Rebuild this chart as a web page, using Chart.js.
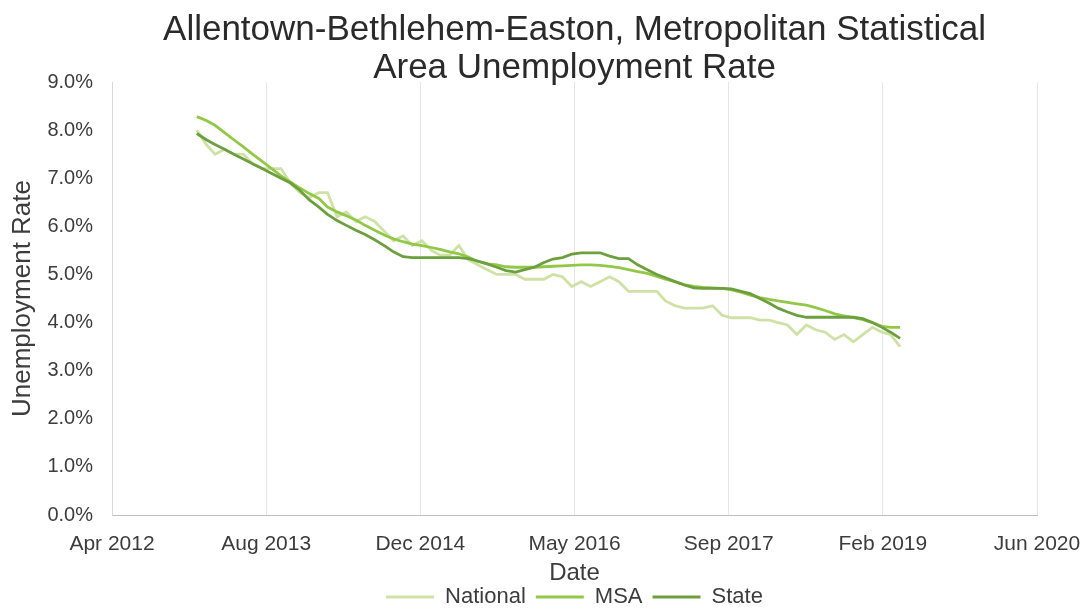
<!DOCTYPE html>
<html>
<head>
<meta charset="utf-8">
<script src="https://cdn.jsdelivr.net/npm/chart.js@4/dist/chart.umd.min.js"></script>
<style>
  html, body { margin: 0; padding: 0; background: #ffffff; }
  #wrap { width: 1086px; height: 610px; position: relative; }
</style>
</head>
<body>
<div id="wrap"><canvas id="c" width="1086" height="610"></canvas></div>
<script>
// Monthly observations (first of month)
const months = [
  "2013-01","2013-02","2013-03","2013-04","2013-05","2013-06","2013-07","2013-08","2013-09","2013-10","2013-11","2013-12",
  "2014-01","2014-02","2014-03","2014-04","2014-05","2014-06","2014-07","2014-08","2014-09","2014-10","2014-11","2014-12",
  "2015-01","2015-02","2015-03","2015-04","2015-05","2015-06","2015-07","2015-08","2015-09","2015-10","2015-11","2015-12",
  "2016-01","2016-02","2016-03","2016-04","2016-05","2016-06","2016-07","2016-08","2016-09","2016-10","2016-11","2016-12",
  "2017-01","2017-02","2017-03","2017-04","2017-05","2017-06","2017-07","2017-08","2017-09","2017-10","2017-11","2017-12",
  "2018-01","2018-02","2018-03","2018-04","2018-05","2018-06","2018-07","2018-08","2018-09","2018-10","2018-11","2018-12",
  "2019-01","2019-02","2019-03","2019-04"
];

const national = [
  8.0, 7.7, 7.5, 7.6, 7.5, 7.5, 7.3, 7.2, 7.2, 7.2, 6.9, 6.7,
  6.6, 6.7, 6.7, 6.2, 6.3, 6.1, 6.2, 6.1, 5.9, 5.7, 5.8, 5.6,
  5.7, 5.5, 5.4, 5.4, 5.6, 5.3, 5.2, 5.1, 5.0, 5.0, 5.0, 4.9,
  4.9, 4.9, 5.0, 4.95, 4.75, 4.85, 4.75, 4.85, 4.95, 4.85, 4.65, 4.65,
  4.65, 4.65, 4.45, 4.35, 4.3, 4.3, 4.3, 4.35, 4.15, 4.1, 4.1, 4.1,
  4.05, 4.05, 4.0, 3.95, 3.75, 3.95, 3.85, 3.8, 3.65, 3.75, 3.6, 3.75,
  3.9, 3.8, 3.75, 3.5
];

const msa = [
  8.28, 8.2, 8.1, 7.95, 7.8, 7.65, 7.5, 7.35, 7.2, 7.05, 6.92, 6.8,
  6.68, 6.58, 6.4, 6.3, 6.22, 6.13, 6.02, 5.92, 5.82, 5.74, 5.68, 5.63,
  5.6, 5.56, 5.52, 5.47, 5.43, 5.36, 5.27, 5.22, 5.2, 5.16, 5.15, 5.15,
  5.15, 5.16, 5.17, 5.18, 5.19, 5.2, 5.2, 5.19, 5.17, 5.14, 5.1, 5.06,
  5.02, 4.96, 4.9, 4.85, 4.79, 4.75, 4.73, 4.72, 4.71, 4.68, 4.63, 4.57,
  4.52, 4.48, 4.45, 4.42, 4.39, 4.36, 4.31, 4.25, 4.18, 4.14, 4.1, 4.06,
  4.0, 3.92, 3.9, 3.9
];

const state = [
  7.93, 7.8, 7.7, 7.6, 7.5, 7.4, 7.3, 7.2, 7.1, 7.0, 6.9, 6.75,
  6.55, 6.4, 6.25, 6.12, 6.02, 5.92, 5.83, 5.72, 5.6, 5.47, 5.37, 5.35,
  5.35, 5.35, 5.35, 5.35, 5.35, 5.33, 5.28, 5.22, 5.15, 5.08, 5.05, 5.1,
  5.15, 5.25, 5.32, 5.35, 5.42, 5.45, 5.45, 5.45, 5.38, 5.33, 5.33, 5.2,
  5.1, 5.0, 4.93, 4.85, 4.78, 4.72, 4.71, 4.71, 4.71, 4.7, 4.65, 4.6,
  4.5, 4.4, 4.3, 4.22, 4.15, 4.11, 4.11, 4.11, 4.11, 4.11, 4.11, 4.08,
  4.0, 3.9, 3.8, 3.67
];

const seriesNames = ["National", "MSA", "State"];
const titleLines = ["Allentown-Bethlehem-Easton, Metropolitan Statistical", "Area Unemployment Rate"];
const xAxisTitle = "Date";
const yAxisTitle = "Unemployment Rate";
const monthNames = ["Jan","Feb","Mar","Apr","May","Jun","Jul","Aug","Sep","Oct","Nov","Dec"];
// Date axis bounds as spreadsheet serial day numbers
const xMin = 41000, xMax = 44000, xStep = 500;
const yMin = 0, yMax = 9, yStep = 1;

function toSerial(ym) {
  const [y, m] = ym.split("-").map(Number);
  return Date.UTC(y, m - 1, 1) / 86400000 + 25569;
}
function serialLabel(v) {
  const d = new Date((v - 25569) * 86400000);
  return monthNames[d.getUTCMonth()] + " " + d.getUTCFullYear();
}
function pts(values) {
  return values.map((v, i) => ({ x: toSerial(months[i]), y: v }));
}

const FONT = "'Liberation Sans', Arial, sans-serif";
const TEXT = "#3c3c3c";
const colors = ["#cfe1a6", "#92c848", "#6c9f3e"];
const seriesData = [national, msa, state];

const datasets = seriesNames.map((name, k) => ({
  label: name,
  data: pts(seriesData[k]),
  borderColor: colors[k],
  backgroundColor: colors[k],
  borderWidth: 2.8,
  pointRadius: 0,
  pointHoverRadius: 0,
  tension: 0,
  order: 2 - k
}));

new Chart(document.getElementById("c"), {
  type: "line",
  data: { datasets },
  options: {
    responsive: false,
    animation: false,
    devicePixelRatio: 1,
    layout: { padding: { left: 0, right: 0, top: 0, bottom: -8 } },
    plugins: {
      tooltip: { enabled: false },
      title: {
        display: true,
        text: titleLines,
        fullSize: false,
        color: "#2a2a2a",
        font: { family: FONT, size: 35, weight: "normal", lineHeight: 1.1 },
        padding: { top: 11, bottom: -6 }
      },
      legend: {
        display: true,
        position: "bottom",
        fullSize: false,
        labels: {
          usePointStyle: true,
          pointStyle: "line",
          pointStyleWidth: 48,
          boxHeight: 22,
          padding: 10,
          color: TEXT,
          font: { family: FONT, size: 22 },
          sort: (a, b) => a.datasetIndex - b.datasetIndex
        }
      }
    },
    scales: {
      x: {
        type: "linear",
        min: xMin,
        max: xMax,
        afterFit: (s) => { s.height = 61; s.paddingRight = 49; },
        ticks: {
          stepSize: xStep,
          autoSkip: false,
          maxRotation: 0,
          padding: 17,
          color: TEXT,
          font: { family: FONT, size: 21 },
          callback: (v) => serialLabel(v)
        },
        grid: { display: true, color: "#e6e6e6", lineWidth: 1, drawTicks: false },
        border: { display: true, color: "#bfbfbf", width: 1 },
        title: {
          display: true,
          text: xAxisTitle,
          color: TEXT,
          font: { family: FONT, size: 24, lineHeight: 1.0 },
          padding: { top: 0, bottom: -9 }
        }
      },
      y: {
        min: yMin,
        max: yMax,
        afterFit: (s) => { s.width = 112; },
        ticks: {
          stepSize: yStep,
          padding: 19,
          color: TEXT,
          font: { family: FONT, size: 20 },
          callback: (v) => Number(v).toFixed(1) + "%"
        },
        grid: { display: false, drawTicks: false },
        border: { display: true, color: "#d9d9d9", width: 1 },
        title: {
          display: true,
          text: yAxisTitle,
          color: TEXT,
          font: { family: FONT, size: 26 },
          padding: { top: 7, bottom: 0 }
        }
      }
    }
  }
});
</script>
</body>
</html>
